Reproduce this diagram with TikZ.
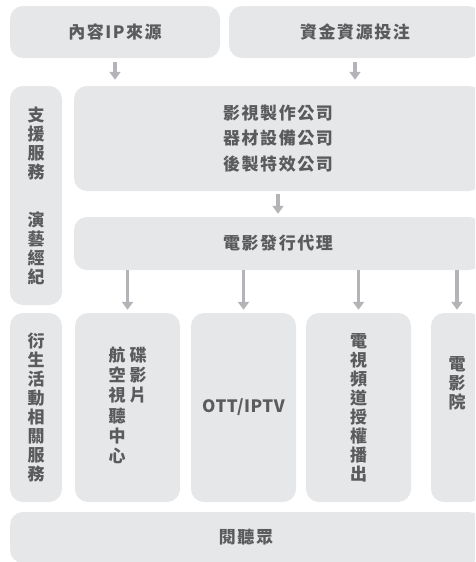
\documentclass[tikz,border=0pt]{standalone}
\usepackage{fontspec}
\setmainfont{Noto Sans CJK TC}[LetterSpace=9]
\usetikzlibrary{arrows.meta,positioning}
\definecolor{boxgray}{HTML}{E6E7E8}
\definecolor{textgray}{HTML}{5A5B5D}
\definecolor{arrowgray}{HTML}{B3B4B7}

\tikzset{
  box/.style={fill=boxgray, rounded corners=13pt, inner sep=0pt, text=textgray,
    font=\fontsize{17}{19}\selectfont\bfseries, align=center},
  flow/.style={draw=arrowgray, line width=3.2pt, -{Triangle[width=11pt,length=8pt]}},
}

\begin{document}
\begin{tikzpicture}[x=1pt, y=-1pt]

\clip (0,0) rectangle (475,562);
\useasboundingbox (0,0) rectangle (475,562);

% ================= TOP: SOURCES =================
\node[box, minimum width=210pt, minimum height=52pt] (ip)   at (115,32)  {內容IP來源};
\node[box, minimum width=252pt, minimum height=52pt] (fund) at (355,32)  {資金資源投注};

% ================= MIDDLE: PRODUCTION / DISTRIBUTION =================
\node[box, minimum width=52pt, minimum height=219pt] (support) at (36,195.5)
  {支\\援\\服\\務\\[29pt]演\\藝\\經\\紀};
\node[box, minimum width=408pt, minimum height=105pt] (prod) at (278,138.5)
  {影視製作公司\\[6.5pt]器材設備公司\\[6.5pt]後製特效公司};
\node[box, minimum width=408pt, minimum height=53pt] (dist) at (278,243.5) {電影發行代理};

% ================= CHANNELS =================
\node[box, minimum width=52pt, minimum height=189pt] (deriv) at (36,407.5)
  {衍\\生\\活\\動\\相\\關\\服\\務};
\node[box, minimum width=105pt, minimum height=189pt] (disc) at (127.5,407.5)
  {\begin{tabular}[t]{@{}c@{}}航\\空\\視\\聽\\中\\心\end{tabular}\hspace{4pt}%
   \begin{tabular}[t]{@{}c@{}}碟\\影\\片\end{tabular}};
\node[box, minimum width=105pt, minimum height=189pt] (ott) at (243.5,407.5)
  {\addfontfeature{LetterSpace=3}OTT/IPTV};
\node[box, minimum width=105pt, minimum height=189pt] (tv) at (358.5,407.5)
  {電\\視\\頻\\道\\授\\權\\播\\出};
\node[box, minimum width=52pt, minimum height=189pt] (cinema) at (457,407.5)
  {電\\影\\院\\[30pt]};

% ================= BOTTOM: AUDIENCE =================
\node[box, minimum width=472pt, minimum height=51pt] (audience) at (246,537.5) {閱聽眾};

% --- arrows ---
\draw[flow, shorten <=4pt, shorten >=6pt] (ip) -- (ip |- prod.north);
\draw[flow, shorten <=4pt, shorten >=6pt] (fund) -- (fund |- prod.north);
\draw[flow, shorten <=3pt, shorten >=3pt] (prod) -- (dist);
\foreach \ch in {disc,ott,tv,cinema}
  \draw[flow, shorten >=3pt] (\ch |- dist.south) -- (\ch);

\end{tikzpicture}
\end{document}
